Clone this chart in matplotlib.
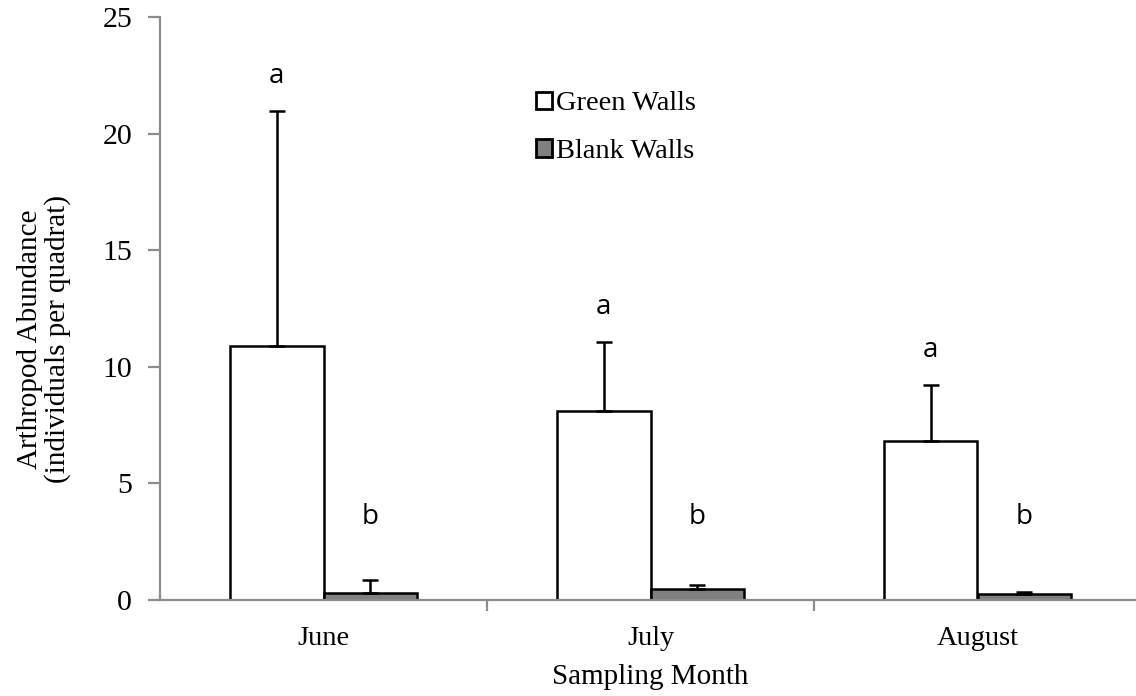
import numpy as np
import matplotlib
matplotlib.use("Agg")
from matplotlib import pyplot as plt
from matplotlib.ticker import FixedLocator

months = ["June", "July", "August"]
green_mean = [10.9, 8.1, 6.8]
green_err = [10.05, 2.95, 2.42]
blank_mean = [0.3, 0.47, 0.26]
blank_err = [0.55, 0.18, 0.07]
green_letters = ["a", "a", "a"]
blank_letters = ["b", "b", "b"]

plt.rcParams['font.family'] = ['Liberation Serif', 'DejaVu Serif']
axis_grey = '#8c8c8c'

fig = plt.figure(figsize=(11.36, 6.96), dpi=100)
ax = fig.add_axes([160 / 1136, 1 - 600 / 696, 981 / 1136, 583 / 696])

x = np.arange(len(months))
w = 0.285
ax.bar(x - w / 2, green_mean, w, color='white', edgecolor='black', linewidth=1.8,
       yerr=[np.zeros(3), green_err], capsize=5.5,
       error_kw=dict(ecolor='black', elinewidth=1.8, capthick=1.8),
       label='Green Walls', zorder=3)
ax.bar(x + w / 2, blank_mean, w, color='#808080', edgecolor='black', linewidth=1.8,
       yerr=[np.zeros(3), blank_err], capsize=5.5,
       error_kw=dict(ecolor='black', elinewidth=1.8, capthick=1.8),
       label='Blank Walls', zorder=3)

# significance letters
for i in range(len(months)):
    ax.text(x[i] - w / 2, green_mean[i] + green_err[i] + 1.5, green_letters[i],
            ha='center', va='center', fontsize=20, family='Open Sans')
    ax.text(x[i] + w / 2, 3.55, blank_letters[i],
            ha='center', va='center', fontsize=20, family='Open Sans')

ax.set_xlim(-0.5, 2.5)
ax.set_ylim(0, 25)
ax.set_yticks([0, 5, 10, 15, 20, 25])
ax.set_xticks(x)
ax.set_xticklabels(months)
ax.xaxis.set_minor_locator(FixedLocator([0.5, 1.5]))
ax.tick_params(axis='x', which='major', length=0, labelsize=20.5, pad=19)
ax.tick_params(axis='x', which='minor', length=8, width=1.6, color=axis_grey)
ax.tick_params(axis='y', length=9, width=1.6, color=axis_grey, labelsize=21.5, pad=11)

for side in ['top', 'right']:
    ax.spines[side].set_visible(False)
for side in ['left', 'bottom']:
    ax.spines[side].set_color(axis_grey)
    ax.spines[side].set_linewidth(1.6)
ax.spines['bottom'].set_zorder(4)

ax.set_xlabel('Sampling Month', fontsize=21, labelpad=9)
fig.text(0.039, 1 - 339 / 696, 'Arthropod Abundance\n(individuals per quadrat)',
         rotation=90, ha='center', va='center', fontsize=21, linespacing=1.05)

leg = ax.legend(loc='upper left', bbox_to_anchor=(0.372, 0.892), frameon=False,
                fontsize=20.5, handlelength=0.55, handleheight=0.55,
                handletextpad=0.15, labelspacing=0.8, borderaxespad=0)
for h in leg.legend_handles:
    h.set_linewidth(2)

fig.savefig('out.png', dpi=100)
